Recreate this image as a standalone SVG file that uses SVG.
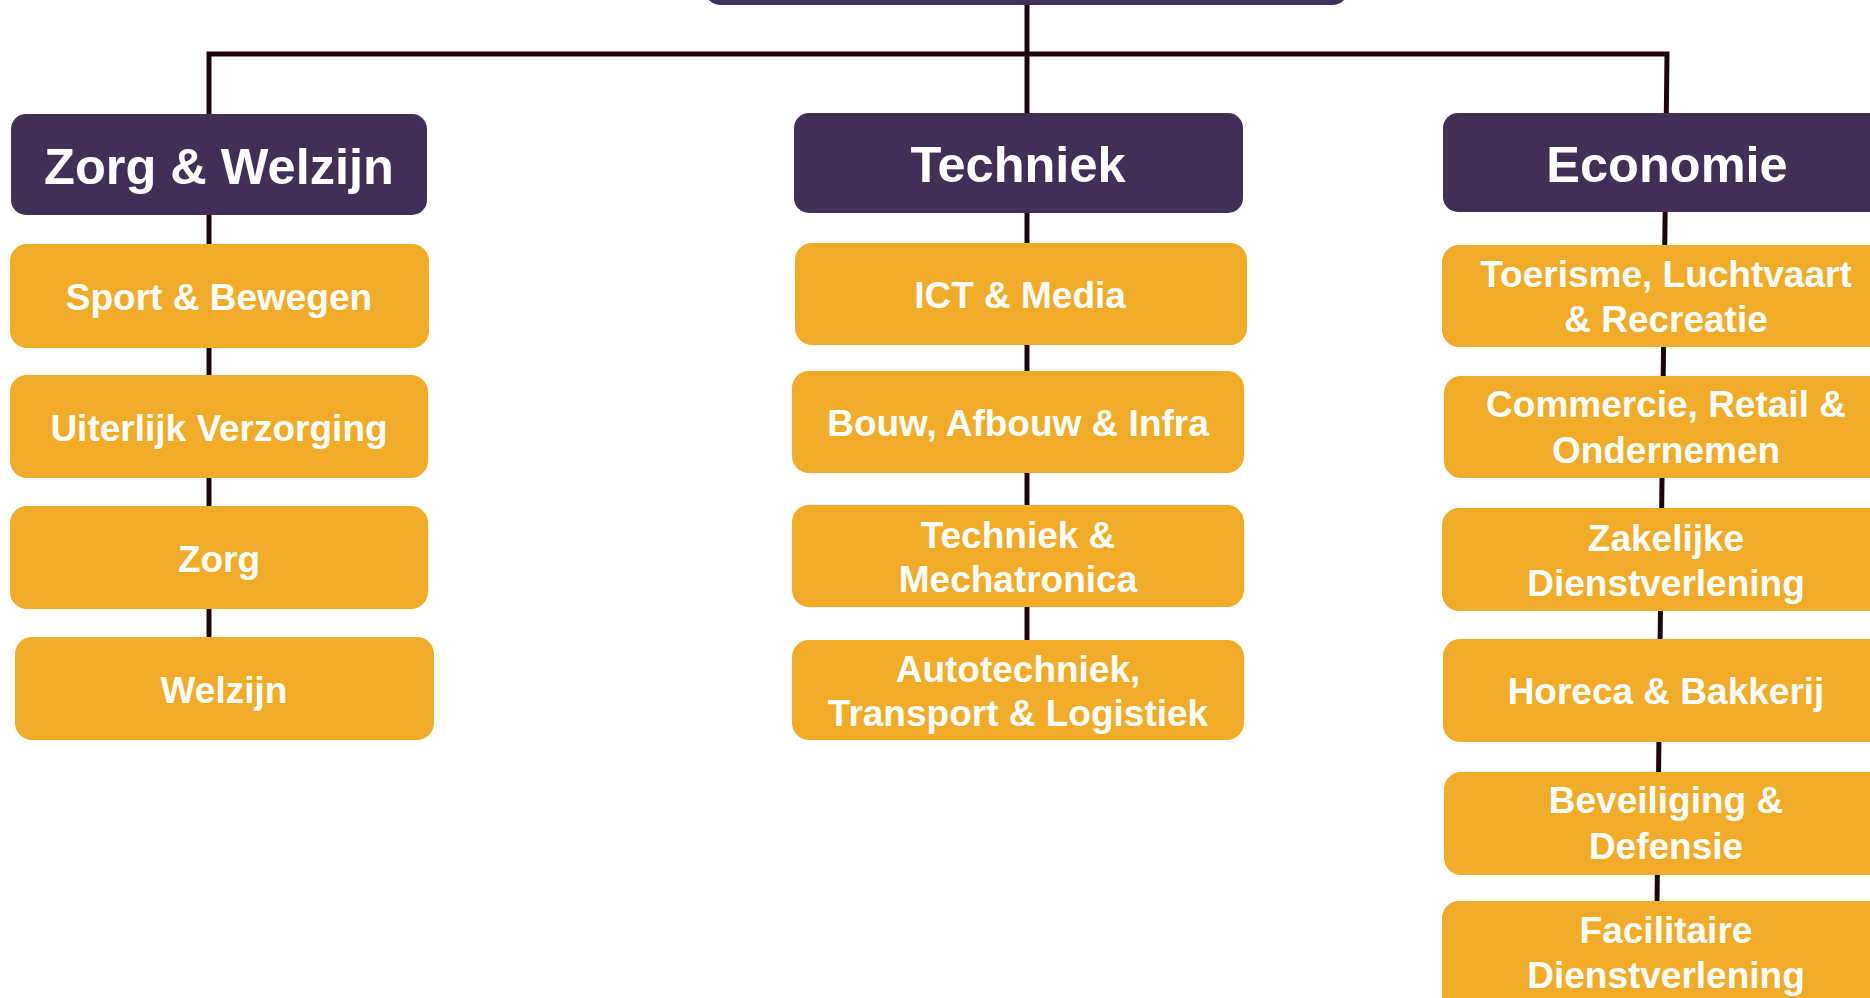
<svg xmlns="http://www.w3.org/2000/svg" width="1870" height="998" viewBox="0 0 1870 998">
<style>
.hd{fill:#412F56}
.sb{fill:#F0AC29}
.ht{font-family:"Liberation Sans",Arial,sans-serif;font-weight:bold;font-size:50.5px;fill:#fff;text-anchor:middle}
.st{font-family:"Liberation Sans",Arial,sans-serif;font-weight:bold;font-size:37px;fill:#fff;text-anchor:middle}
.ln{stroke:#1C060C;stroke-width:5;fill:none}
</style>
<rect width="1870" height="998" fill="#fff"/>
<g id="connectors">
<polyline class="ln" points="209,640 209,54 1667,54 1657,905"/>
<line class="ln" x1="1027" y1="0" x2="1027" y2="645"/>
</g>
<g id="root"><rect class="hd" x="705" y="-60" width="643" height="65" rx="15"/></g>
<g id="zorg-welzijn"><rect class="hd" x="11" y="114" width="416" height="101" rx="15"/><text class="ht" x="219" y="184">Zorg &amp; Welzijn</text></g>
<g id="sport"><rect class="sb" x="10" y="244" width="419" height="104" rx="17"/><text class="st" x="219" y="310">Sport &amp; Bewegen</text></g>
<g id="uiterlijk"><rect class="sb" x="10" y="375" width="418" height="103" rx="17"/><text class="st" x="219" y="441">Uiterlijk Verzorging</text></g>
<g id="zorg"><rect class="sb" x="10" y="506" width="418" height="103" rx="17"/><text class="st" x="219" y="572">Zorg</text></g>
<g id="welzijn"><rect class="sb" x="15" y="637" width="419" height="103" rx="17"/><text class="st" x="224" y="703">Welzijn</text></g>
<g id="techniek"><rect class="hd" x="794" y="113" width="449" height="100" rx="15"/><text class="ht" x="1018" y="182">Techniek</text></g>
<g id="ict"><rect class="sb" x="795" y="243" width="452" height="102" rx="17"/><text class="st" x="1020" y="308">ICT &amp; Media</text></g>
<g id="bouw"><rect class="sb" x="792" y="371" width="452" height="102" rx="17"/><text class="st" x="1018" y="436">Bouw, Afbouw &amp; Infra</text></g>
<g id="mechatronica"><rect class="sb" x="792" y="505" width="452" height="102" rx="17"/><text class="st" x="1018" y="548">Techniek &amp;</text><text class="st" x="1018" y="592">Mechatronica</text></g>
<g id="autotechniek"><rect class="sb" x="792" y="640" width="452" height="100" rx="17"/><text class="st" x="1018" y="682">Autotechniek,</text><text class="st" x="1018" y="726">Transport &amp; Logistiek</text></g>
<g id="economie"><rect class="hd" x="1443" y="113" width="446" height="99" rx="15"/><text class="ht" x="1667" y="182">Economie</text></g>
<g id="toerisme"><rect class="sb" x="1442" y="245" width="448" height="102" rx="17"/><text class="st" x="1666" y="287">Toerisme, Luchtvaart</text><text class="st" x="1666" y="332">&amp; Recreatie</text></g>
<g id="commercie"><rect class="sb" x="1444" y="376" width="448" height="102" rx="17"/><text class="st" x="1666" y="417">Commercie, Retail &amp;</text><text class="st" x="1666" y="463">Ondernemen</text></g>
<g id="zakelijke"><rect class="sb" x="1442" y="508" width="448" height="103" rx="17"/><text class="st" x="1666" y="551">Zakelijke</text><text class="st" x="1666" y="596">Dienstverlening</text></g>
<g id="horeca"><rect class="sb" x="1443" y="639" width="448" height="103" rx="17"/><text class="st" x="1666" y="704">Horeca &amp; Bakkerij</text></g>
<g id="beveiliging"><rect class="sb" x="1444" y="772" width="448" height="103" rx="17"/><text class="st" x="1666" y="813">Beveiliging &amp;</text><text class="st" x="1666" y="859">Defensie</text></g>
<g id="facilitaire"><rect class="sb" x="1442" y="901" width="448" height="120" rx="17"/><text class="st" x="1666" y="943">Facilitaire</text><text class="st" x="1666" y="988">Dienstverlening</text></g>
</svg>
